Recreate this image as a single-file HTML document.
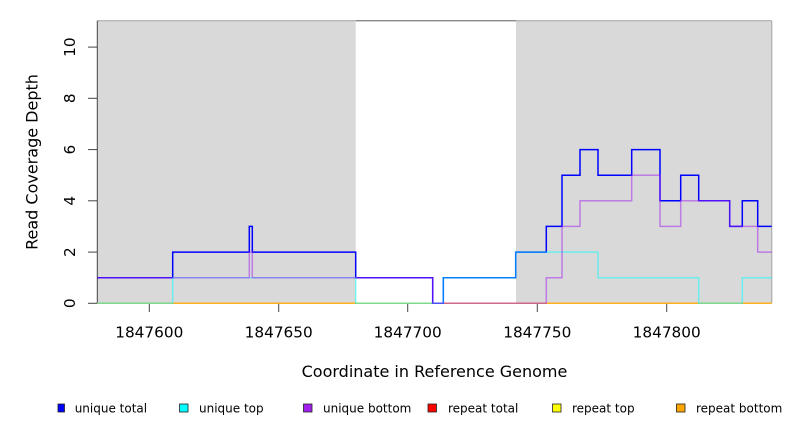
<!DOCTYPE html>
<html><head><meta charset="utf-8"><style>
html,body{margin:0;padding:0;background:#fff;}
svg{display:block;}
text{font-family:"DejaVu Sans","Liberation Sans",sans-serif;fill:#000;}
</style></head><body>
<svg width="792" height="432" viewBox="0 0 792 432" xmlns="http://www.w3.org/2000/svg">
<rect x="0" y="0" width="792" height="432" fill="#fff"/>
<!-- shaded regions -->
<rect x="97.3" y="20.7" width="258.4" height="282.6" fill="#d9d9d9"/>
<rect x="516" y="20.7" width="255.7" height="282.6" fill="#d9d9d9"/>
<!-- box -->
<line x1="355.7" y1="20.7" x2="516" y2="20.7" stroke="#888" stroke-width="1.3"/>
<line x1="97.3" y1="20.7" x2="355.7" y2="20.7" stroke="#b8b8b8" stroke-width="1.3"/>
<line x1="516" y1="20.7" x2="771.7" y2="20.7" stroke="#b8b8b8" stroke-width="1.3"/>
<line x1="771.7" y1="20.7" x2="771.7" y2="303.3" stroke="#b0b0b0" stroke-width="1.3"/>
<line x1="97.3" y1="20.7" x2="97.3" y2="303.3" stroke="#444" stroke-width="1"/>
<!-- y ticks -->
<g stroke="#444" stroke-width="1">
<line x1="88" y1="303.3" x2="97.3" y2="303.3"/>
<line x1="88" y1="252.1" x2="97.3" y2="252.1"/>
<line x1="88" y1="200.8" x2="97.3" y2="200.8"/>
<line x1="88" y1="149.6" x2="97.3" y2="149.6"/>
<line x1="88" y1="98.3" x2="97.3" y2="98.3"/>
<line x1="88" y1="47.1" x2="97.3" y2="47.1"/>
<!-- x ticks -->
<line x1="149.3" y1="303.3" x2="149.3" y2="312"/>
<line x1="278.7" y1="303.3" x2="278.7" y2="312"/>
<line x1="407.7" y1="303.3" x2="407.7" y2="312"/>
<line x1="537.3" y1="303.3" x2="537.3" y2="312"/>
<line x1="666.7" y1="303.3" x2="666.7" y2="312"/>
</g>
<!-- repeat lines at zero -->
<g fill="none" stroke-width="1.5">
<path d="M97.3,303.3 H771.7" stroke="#ff0000" stroke-opacity="0.5"/>
<path d="M97.3,303.3 H771.7" stroke="#ffff00" stroke-opacity="0.5"/>
<path d="M97.3,303.3 H771.7" stroke="#ffa500" stroke-opacity="0.5"/>
<!-- unique total -->
<path d="M97.3,277.7 H172.7 V252.1 H249.3 V226.4 H252.3 V252.1 H355.7 V277.7 H432.7 V303.3 H443.3 V277.7 H515.7 V252.1 H546.3 V226.4 H562 V175.2 H580 V149.6 H598 V175.2 H631.7 V149.6 H660 V200.8 H680.7 V175.2 H698.7 V200.8 H729.7 V226.4 H742.3 V200.8 H757.7 V226.4 H771.7" stroke="#0000ff"/>
<!-- unique top -->
<path d="M97.3,303.3 H172.7 V277.7 H355.7 V303.3 H443.3 V277.7 H515.7 V252.1 H598 V277.7 H698.7 V303.3 H742.3 V277.7 H771.7" stroke="#00ffff" stroke-opacity="0.5"/>
<!-- unique bottom -->
<path d="M97.3,277.7 H249.3 V252.1 H252.3 V277.7 H432.7 V303.3 H546.3 V277.7 H562 V226.4 H580 V200.8 H631.7 V175.2 H660 V226.4 H680.7 V200.8 H729.7 V226.4 H757.7 V252.1 H771.7" stroke="#a020f0" stroke-opacity="0.5"/>
</g>
<!-- y tick labels -->
<g font-size="15.3" text-anchor="middle">
<text transform="translate(75,303.3) rotate(-90)">0</text>
<text transform="translate(75,252.1) rotate(-90)">2</text>
<text transform="translate(75,200.8) rotate(-90)">4</text>
<text transform="translate(75,149.6) rotate(-90)">6</text>
<text transform="translate(75,98.3) rotate(-90)">8</text>
<text transform="translate(75,47.1) rotate(-90)">10</text>
</g>
<!-- x tick labels -->
<g font-size="15.3" text-anchor="middle">
<text x="149.3" y="337.5">1847600</text>
<text x="278.7" y="337.5">1847650</text>
<text x="407.7" y="337.5">1847700</text>
<text x="537.3" y="337.5">1847750</text>
<text x="666.7" y="337.5">1847800</text>
</g>
<!-- axis titles -->
<text x="434.5" y="377" font-size="16" text-anchor="middle">Coordinate in Reference Genome</text>
<text transform="translate(37.5,162) rotate(-90)" font-size="16" text-anchor="middle">Read Coverage Depth</text>
<!-- legend -->
<g stroke="#222" stroke-width="0.8">
<rect x="58" y="404" width="6.5" height="8" fill="#0000ff"/>
<rect x="179.5" y="404" width="8.5" height="8" fill="#00ffff"/>
<rect x="303.5" y="404" width="8.5" height="8" fill="#a020f0"/>
<rect x="428" y="404" width="8.5" height="8" fill="#ff0000"/>
<rect x="552.5" y="404" width="8.5" height="8" fill="#ffff00"/>
<rect x="676.5" y="404" width="8.5" height="8" fill="#ffa500"/>
</g>
<g font-size="12">
<text x="74.7" y="412.5">unique total</text>
<text x="199" y="412.5">unique top</text>
<text x="323" y="412.5">unique bottom</text>
<text x="448" y="412.5">repeat total</text>
<text x="572" y="412.5">repeat top</text>
<text x="696" y="412.5">repeat bottom</text>
</g>
</svg>
</body></html>
